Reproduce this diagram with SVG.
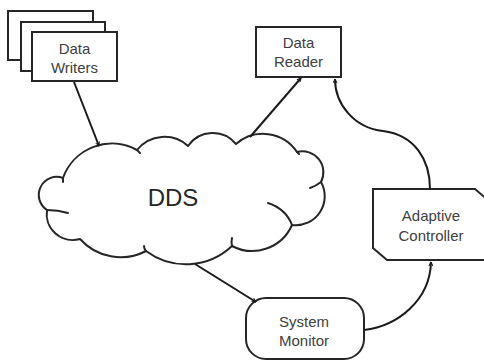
<svg xmlns="http://www.w3.org/2000/svg" width="484" height="362" viewBox="0 0 484 362">
<defs>
<style>
.box{fill:#fff;stroke:#262626;stroke-width:2}
.lbl{font-family:"Liberation Sans",Arial,sans-serif;font-size:15px;fill:#404040;text-anchor:middle}
.big{font-family:"Liberation Sans",Arial,sans-serif;font-size:24px;fill:#262626;text-anchor:middle}
.cl{fill:#fff;stroke:#262626;stroke-width:2;stroke-linejoin:round}
.tail{fill:none;stroke:#262626;stroke-width:2;stroke-linecap:round}
.conn{fill:none;stroke:#1a1a1a;stroke-width:2;marker-end:url(#arr)}
</style>
<marker id="arr" viewBox="0 0 10 10" refX="9" refY="5" markerWidth="5" markerHeight="5" orient="auto" markerUnits="userSpaceOnUse">
<path d="M1,1 L9,5 L1,9" fill="none" stroke="#1a1a1a" stroke-width="2"/>
</marker>
</defs>
<rect width="484" height="362" fill="#fff"/>

<g id="writers">
<rect class="box" x="8" y="11" width="85" height="49"/>
<rect class="box" x="21" y="22" width="84" height="49"/>
<rect class="box" x="32" y="32" width="85" height="49"/>
<text class="lbl" x="74.5" y="54">Data</text>
<text class="lbl" x="74.5" y="73">Writers</text>
</g>

<g id="reader">
<rect class="box" x="256" y="27" width="85" height="50"/>
<text class="lbl" x="298.5" y="48">Data</text>
<text class="lbl" x="298.5" y="67">Reader</text>
</g>

<g id="dds">
<path class="cl" d="M63,178 A52,52 0 0 1 137,150 A35,35 0 0 1 188,146 A30,30 0 0 1 236,144 A41,41 0 0 1 297,152 A21,21 0 0 1 321,182 A29,29 0 0 1 292,225 A43.5,43.5 0 0 1 232,246 A67,67 0 0 1 146,251 A54.5,54.5 0 0 1 80,239 A26,26 0 0 1 47,210 A18,18 0 0 1 63,178 Z"/>
<path class="tail" d="M47,210 Q58,210 68,213"/>
<path class="tail" d="M63,178 L63,182"/>
<path class="tail" d="M137,150 L140,153"/>
<path class="tail" d="M297,152 L299,154"/>
<path class="tail" d="M321,182 Q316,186 310,188"/>
<path class="tail" d="M268,203 Q286,209 292,225"/>
<path class="tail" d="M232,246 Q231,242 232,238"/>
<path class="tail" d="M146,251 Q144,249 144,246"/>
<text class="big" x="173" y="206">DDS</text>
</g>

<g id="adaptive">
<polygon class="box" points="373,189 475,189 490,202 490,260 387,260 373,248"/>
<text class="lbl" x="431" y="221">Adaptive</text>
<text class="lbl" x="431" y="241">Controller</text>
</g>

<g id="monitor">
<rect class="box" x="246" y="298" width="118" height="61" rx="20" ry="20"/>
<text class="lbl" x="304" y="327">System</text>
<text class="lbl" x="304" y="346">Monitor</text>
</g>

<g id="connectors">
<path class="conn" d="M74,82 L99,146"/>
<path class="conn" d="M250,137 L301,78"/>
<path class="conn" d="M195,264 L256,302"/>
<path class="conn" d="M364,330 C398,326 430,300 431,262"/>
<path class="conn" d="M430,189 C430,160 415,135 383,131 C355,128 335,105 335,79"/>
</g>
</svg>
